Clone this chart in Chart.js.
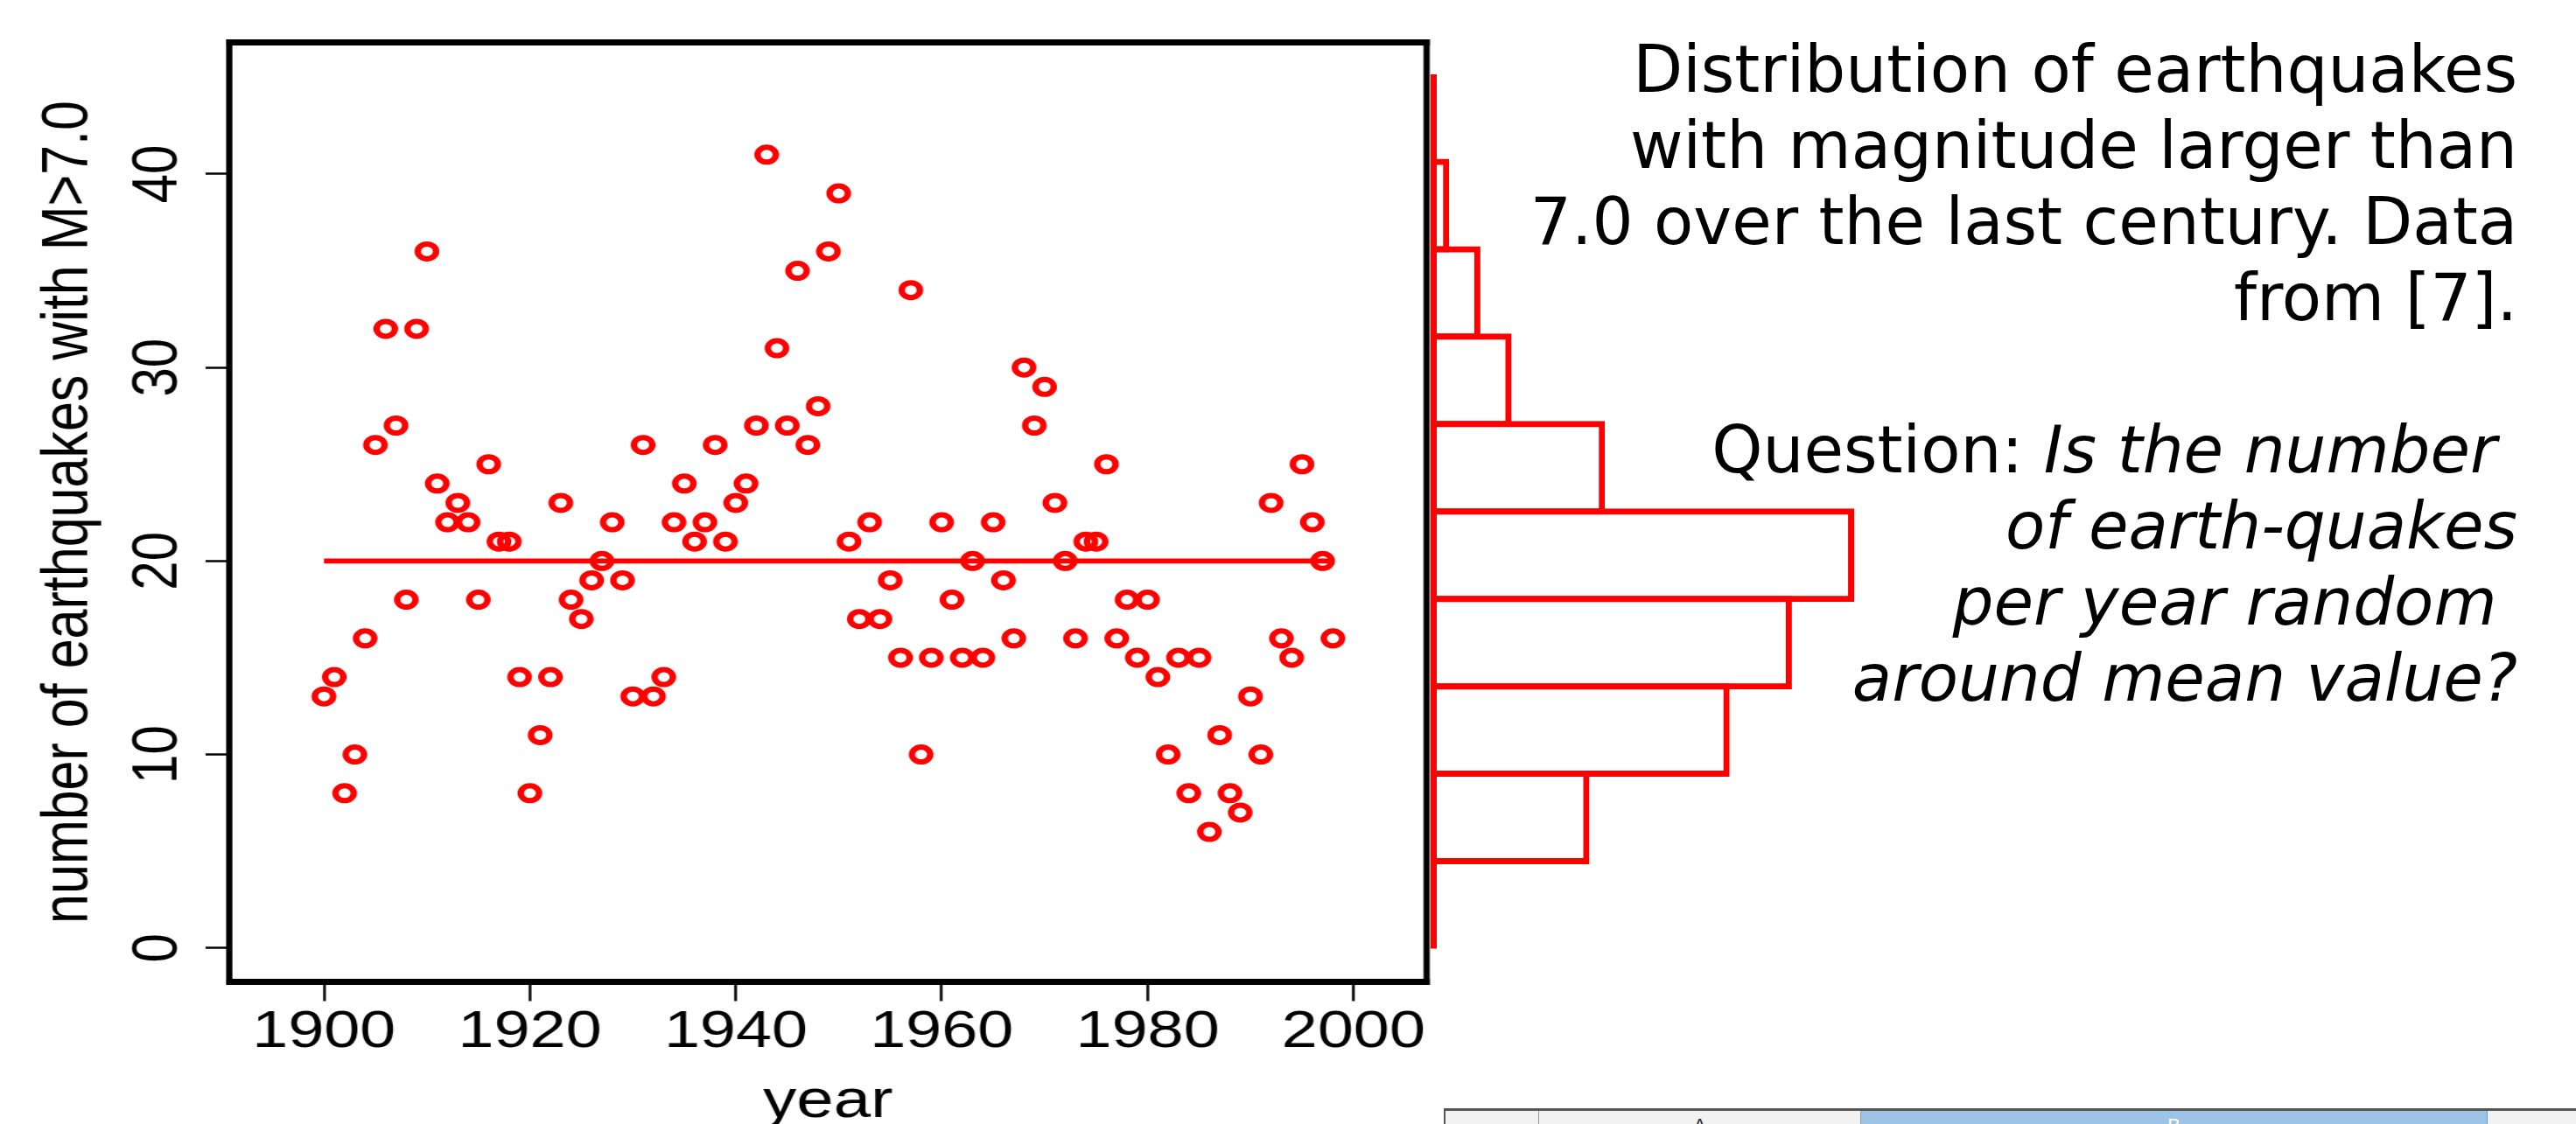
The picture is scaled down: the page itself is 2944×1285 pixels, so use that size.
<!DOCTYPE html>
<html>
<head>
<meta charset="utf-8">
<title>Earthquakes M>7.0</title>
<script src="https://cdn.jsdelivr.net/npm/chart.js@4.4.1/dist/chart.umd.min.js"></script>
<style>
    html, body { margin: 0; padding: 0; background: #fff; }
    body { width: 2944px; height: 1285px; position: relative; overflow: hidden; }
    /* the R plot in the slide is stretched sideways, so the whole panel is too */
    #scatterWrap { position: absolute; left: 0; top: 0; width: 1340px; height: 1285px; transform: scaleX(1.23); transform-origin: 0 0; }
    #histWrap { position: absolute; left: 1600px; top: 0; width: 700px; height: 1285px; }
    .caption {
        position: absolute; right: 67px; top: 36px;
        font-family: "DejaVu Sans", sans-serif; font-size: 74px; line-height: 87px;
        text-align: right; white-space: pre; color: #000;
    }
    .sheet { position: absolute; left: 1650px; top: 1267px; right: 0; height: 40px; border-top: 3px solid #555; }
    .sheet div {
        position: absolute; top: 0; height: 40px; box-sizing: border-box;
        background: #f2f2f2; border-right: 1px solid #9a9a9a;
        font: 22px "Liberation Sans", Arial, sans-serif; text-align: center; line-height: 22px; padding-top: 6px; color: #333;
    }
    .sheet .sel { background: #9dc3e6; color: #fff; border-right: 1px solid #6f9fd0; }
</style>
</head>
<body>

<div id="scatterWrap"><canvas id="scatter" width="1340" height="1285"></canvas></div>
<div id="histWrap"><canvas id="hist" width="700" height="1285"></canvas></div>

<div class="caption">Distribution of earthquakes
with magnitude larger than
7.0 over the last century. Data
from [7].

Question: <i>Is the number </i>
<i>of earth-quakes</i>
<i>per year random </i>
<i>around mean value?</i></div>

<div class="sheet">
    <div style="left:0; width:109px; border-left:2px solid #555;"></div>
    <div style="left:109px; width:368px;">A</div>
    <div class="sel" style="left:477px; width:716px;">B</div>
    <div style="left:1193px; width:110px;"></div>
</div>

<script>
// 1. DATA
const years = [
    1900, 1901, 1902, 1903, 1904, 1905, 1906, 1907, 1908, 1909,
    1910, 1911, 1912, 1913, 1914, 1915, 1916, 1917, 1918, 1919,
    1920, 1921, 1922, 1923, 1924, 1925, 1926, 1927, 1928, 1929,
    1930, 1931, 1932, 1933, 1934, 1935, 1936, 1937, 1938, 1939,
    1940, 1941, 1942, 1943, 1944, 1945, 1946, 1947, 1948, 1949,
    1950, 1951, 1952, 1953, 1954, 1955, 1956, 1957, 1958, 1959,
    1960, 1961, 1962, 1963, 1964, 1965, 1966, 1967, 1968, 1969,
    1970, 1971, 1972, 1973, 1974, 1975, 1976, 1977, 1978, 1979,
    1980, 1981, 1982, 1983, 1984, 1985, 1986, 1987, 1988, 1989,
    1990, 1991, 1992, 1993, 1994, 1995, 1996, 1997, 1998
];
const quakes = [
    13, 14, 8, 10, 16, 26, 32, 27, 18, 32,
    36, 24, 22, 23, 22, 18, 25, 21, 21, 14,
    8, 11, 14, 23, 18, 17, 19, 20, 22, 19,
    13, 26, 13, 14, 22, 24, 21, 22, 26, 21,
    23, 24, 27, 41, 31, 27, 35, 26, 28, 36,
    39, 21, 17, 22, 17, 19, 15, 34, 10, 15,
    22, 18, 15, 20, 15, 22, 19, 16, 30, 27,
    29, 23, 20, 16, 21, 21, 25, 16, 18, 15,
    18, 14, 10, 15, 8, 15, 6, 11, 8, 7,
    13, 10, 23, 16, 15, 25, 22, 20, 16
];
// horizontal mean line
const meanYears = [1900, 1998];
const meanValues = [20, 20];

// histogram on the right (bins of 5)
const binLabels = ['0-5', '5-10', '10-15', '15-20', '20-25', '25-30', '30-35', '35-40', '40-45', '45-50'];
const binCounts = [0, 10, 19, 23, 27, 11, 5, 3, 1, 0];

// tick labels
const xTicks = [1900, 1920, 1940, 1960, 1980, 2000];
const yTicks = [0, 10, 20, 30, 40];

const RED = '#ff0000';
const AXIS_FONT = '"Liberation Sans", Arial, Helvetica, sans-serif';

// 2. SCATTER: box, rotated y labels and axis titles drawn on top
const framePlugin = {
    id: 'frame',
    afterDraw(chart) {
        const { ctx, chartArea: a, scales: { x, y } } = chart;
        ctx.save();
        ctx.strokeStyle = '#000';
        ctx.lineCap = 'butt';

        // plot box (vertical sides get widened by the stretch)
        ctx.lineWidth = 7.2;
        ctx.beginPath();
        ctx.moveTo(a.left - 2.9, a.top); ctx.lineTo(a.right + 2.9, a.top);
        ctx.moveTo(a.left - 2.9, a.bottom); ctx.lineTo(a.right + 2.9, a.bottom);
        ctx.stroke();
        ctx.lineWidth = 5.8;
        ctx.beginPath();
        ctx.moveTo(a.left, a.top - 3.6); ctx.lineTo(a.left, a.bottom + 3.6);
        ctx.moveTo(a.right, a.top - 3.6); ctx.lineTo(a.right, a.bottom + 3.6);
        ctx.stroke();

        ctx.fillStyle = '#000';

        // y tick labels, parallel to the axis
        ctx.font = '60px ' + AXIS_FONT;
        ctx.textAlign = 'center';
        ctx.textBaseline = 'alphabetic';
        y.ticks.forEach(t => {
            ctx.save();
            ctx.translate(a.left - 49, y.getPixelForValue(t.value));
            ctx.rotate(-Math.PI / 2);
            ctx.fillText(String(t.value), 0, 0);
            ctx.restore();
        });

        // x tick labels
        x.ticks.forEach(t => {
            ctx.fillText(String(t.value), x.getPixelForValue(t.value), a.bottom + 74.5);
        });

        // y title
        ctx.font = '61px ' + AXIS_FONT;
        ctx.save();
        ctx.translate(a.left - 131.7, (a.top + a.bottom) / 2);
        ctx.rotate(-Math.PI / 2);
        ctx.fillText('number of earthquakes with M>7.0', 0, 0);
        ctx.restore();

        // x title
        ctx.font = '62px ' + AXIS_FONT;
        ctx.fillText('year', (a.left + a.right) / 2, a.bottom + 154.5);
        ctx.restore();
    }
};

new Chart(document.getElementById('scatter'), {
    type: 'scatter',
    data: {
        datasets: [
            {
                type: 'line',
                data: meanYears.map((yr, i) => ({ x: yr, y: meanValues[i] })),
                borderColor: RED,
                borderWidth: 5.8,
                pointRadius: 0,
                fill: false,
                order: 1
            },
            {
                data: years.map((yr, i) => ({ x: yr, y: quakes[i] })),
                pointStyle: 'circle',
                pointRadius: 8.5,
                pointBorderWidth: 6,
                borderColor: RED,
                backgroundColor: 'rgba(255,255,255,0)',
                order: 0
            }
        ]
    },
    options: {
        responsive: false,
        animation: false,
        devicePixelRatio: 1,
        layout: { padding: { left: 191, right: 13.2, top: 48.5, bottom: 140.5 } },
        plugins: { legend: { display: false }, tooltip: { enabled: false } },
        scales: {
            x: {
                type: 'linear',
                min: 1890.8,
                max: 2007.1,
                afterBuildTicks: s => { s.ticks = xTicks.map(v => ({ value: v })); },
                ticks: { display: false },
                border: { display: false },
                grid: { drawOnChartArea: false, drawTicks: true, tickLength: 22, tickWidth: 2.5, tickColor: '#000' }
            },
            y: {
                type: 'linear',
                min: -1.75,
                max: 46.8,
                afterBuildTicks: s => { s.ticks = yTicks.map(v => ({ value: v })); },
                ticks: { display: false },
                border: { display: false },
                grid: { drawOnChartArea: false, drawTicks: true, tickLength: 22, tickWidth: 2.5, tickColor: '#000' }
            }
        }
    },
    plugins: [framePlugin]
});

// 3. HISTOGRAM: horizontal bars, red outline, red baseline
const baselinePlugin = {
    id: 'baseline',
    afterDatasetsDraw(chart) {
        const { ctx, chartArea: a, scales: { x } } = chart;
        const x0 = x.getPixelForValue(0);
        ctx.save();
        ctx.strokeStyle = RED;
        ctx.lineWidth = 7;
        ctx.beginPath();
        ctx.moveTo(x0, a.top);
        ctx.lineTo(x0, a.bottom);
        ctx.stroke();
        ctx.restore();
    }
};

new Chart(document.getElementById('hist'), {
    type: 'bar',
    data: {
        labels: binLabels,
        datasets: [{
            data: binCounts,
            backgroundColor: 'rgba(255,255,255,0)',
            borderColor: RED,
            borderWidth: 7,
            borderSkipped: 'start',
            barPercentage: 1.07,
            categoryPercentage: 1,
            clip: false
        }]
    },
    options: {
        indexAxis: 'y',
        responsive: false,
        animation: false,
        devicePixelRatio: 1,
        layout: { padding: { left: 38.5, right: 127.5, top: 85, bottom: 200.5 } },
        plugins: { legend: { display: false }, tooltip: { enabled: false } },
        scales: {
            x: { display: false, min: 0, max: 30 },
            y: { display: false, reverse: true }
        }
    },
    plugins: [baselinePlugin]
});
</script>
</body>
</html>
